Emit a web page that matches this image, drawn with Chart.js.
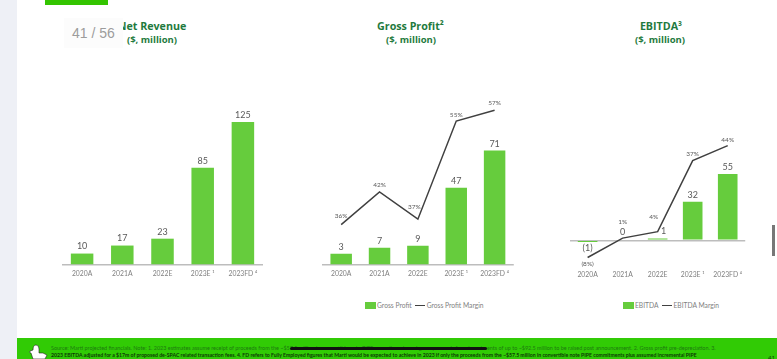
<!DOCTYPE html>
<html>
<head>
<meta charset="utf-8">
<script src="https://cdn.jsdelivr.net/npm/chart.js@4"></script>
<style>
html, body { margin: 0; padding: 0; width: 777px; height: 359px; overflow: hidden; background: #fff; font-family: Lato, sans-serif; }
div, canvas, svg { position: absolute; }
#sideStrip { left: 0; top: 0; width: 17px; height: 359px; background: #eef0f6; }
#topBar { left: 45px; top: 0; width: 63px; height: 5px; background: #33c400; }
.title { width: 130px; text-align: center; color: #1f7a3e; font-weight: 700; white-space: nowrap; font-family: "Open Sans", sans-serif; }
.main { top: 17.5px; font-size: 10.7px; line-height: 16px; }
.unit { top: 33px; font-size: 9.5px; line-height: 13px; }
#pageBadge { left: 64px; top: 18px; width: 59px; height: 30px; text-align: center; background: #fcfcfc; color: #9c9c9c; font: 14px/30px "Liberation Sans", sans-serif; }
.legend { top: 300px; height: 10px; font-size: 6.7px; line-height: 10px; color: #7f7f7f; white-space: nowrap; }
.swatch { display: inline-block; width: 11px; height: 7px; margin-right: 1px; background: #66cc3d; vertical-align: -1px; }
.dash { display: inline-block; width: 10px; height: 1.5px; margin: 0 2px 0 3px; background: #404040; vertical-align: 2px; }
#footer { left: 17px; top: 338px; width: 760px; height: 21px; background: #31cb05; }
.note { left: 34px; line-height: 6px; white-space: nowrap; color: #1c7a10; }
#note1 { top: 7px; font-size: 5.45px; }
#note2 { top: 14px; font-size: 5.15px; color: #0d3a08; font-weight: 700; }
#scribble { left: 273px; top: 8.5px; width: 197px; height: 3px; background: #111; border-radius: 2px; }
#pageNo { left: 751px; top: 16px; font-size: 6px; color: #0d3a08; }
#scrollThumb { left: 772px; top: 225px; width: 3px; height: 31px; background: #777; }
</style>
</head>
<body>
<div id="sideStrip"></div>
<div id="topBar"></div>

<div class="title main" style="left:87px">Net Revenue</div>
<div class="title unit" style="left:87px">($, million)</div>
<div class="title main" style="left:345.5px">Gross Profit²</div>
<div class="title unit" style="left:346px">($, million)</div>
<div class="title main" style="left:596px">EBITDA³</div>
<div class="title unit" style="left:595px">($, million)</div>
<div id="pageBadge">41 / 56</div>

<canvas id="revenueChart" width="201" height="185" style="left:62px;top:100px"></canvas>
<canvas id="profitChart" width="192" height="195" style="left:322px;top:90px"></canvas>
<canvas id="ebitdaChart" width="182" height="162" style="left:569px;top:120px"></canvas>

<div id="profitLegend"></div>
<div id="ebitdaLegend"></div>

<div id="footer">
    <div class="note" id="note1">Source: Marti projected financials. Note: 1. 2023 estimates assume receipt of proceeds from the ~$57.5 million in convertible note PIPE commitments and gross proceeds from investments of up to ~$92.5 million to be raised post announcement. 2. Gross profit pre-depreciation. 3.</div>
    <div class="note" id="note2">2023 EBITDA adjusted for a $17m of proposed de-SPAC related transaction fees. 4. FD refers to Fully Employed figures that Marti would be expected to achieve in 2023 if only the proceeds from the ~$57.5 million in convertible note PIPE commitments plus assumed incremental PIPE</div>
    <div id="scribble"></div>
    <div id="pageNo">41</div>
</div>
<svg style="left:28px;top:344px" width="22" height="15" viewBox="0 0 22 15">
    <path d="M3 9 Q1 9 2 7 L5 6 Q5 1 8 1 Q11 1 11 5 L11 9 L15 9 L19 11 L17 15 L5 15 Z" fill="#fff" stroke="#222" stroke-width="0.6"/>
</svg>
<div id="scrollThumb"></div>

<script>
// 차트 데이터
const years = ['2020A', '2021A', '2022E', '2023E ¹', '2023FD ⁴'];

const revenueValues = [10, 17, 23, 85, 125];

// 그림에서 읽은 막대 높이 (원본 막대는 표시된 숫자와 비례하지 않음)
const profitBarHeights = [7, 10.7, 11.9, 47.6, 70.6];
const profitLabels = ['3', '7', '9', '47', '71'];
const profitMargin = [36, 42, 37, 55, 57];

const ebitdaBarHeights = [-1.5, 0, 1.5, 32, 55];
const ebitdaLabels = ['(1)', '0', '1', '32', '55'];
const ebitdaMargin = [-8, 1, 4, 37, 44];
const ebitdaMarginLabels = ['(8%)', '1%', '4%', '37%', '44%'];

const barColor = '#66cc3d';
const lineColor = '#404040';
const textColor = '#595959';

// 막대/선 위에 값 표시
const valueLabelPlugin = {
    id: 'valueLabels',
    afterDatasetsDraw(chart) {
        const ctx = chart.ctx;
        chart.data.datasets.forEach((dataset, i) => {
            const points = chart.getDatasetMeta(i).data;
            ctx.save();
            ctx.font = dataset.labelFont;
            ctx.fillStyle = textColor;
            ctx.textAlign = 'center';
            ctx.textBaseline = 'middle';
            points.forEach((point, j) => {
                const shift = dataset.labelShift[j];
                ctx.fillText(dataset.valueLabels[j], point.x + shift[0], point.y + shift[1]);
            });
            ctx.restore();
        });
    }
};

function barDataset(label, data, valueLabels, labelShift) {
    return {
        type: 'bar',
        label: label,
        data: data,
        yAxisID: 'y',
        backgroundColor: barColor,
        barPercentage: 0.56,
        categoryPercentage: 1,
        order: 2,
        valueLabels: valueLabels,
        labelShift: labelShift,
        labelFont: '9px Lato'
    };
}

function lineDataset(label, data, valueLabels, labelShift) {
    return {
        type: 'line',
        label: label,
        data: data,
        yAxisID: 'yLine',
        borderColor: lineColor,
        borderWidth: 1.5,
        pointRadius: 0,
        tension: 0,
        order: 1,
        valueLabels: valueLabels,
        labelShift: labelShift,
        labelFont: '6.5px Lato'
    };
}

function drawChart(canvasId, datasets, barRange, lineRange, tickGap) {
    const scales = {
        x: {
            grid: { display: false, drawTicks: false },
            border: { display: false },
            ticks: { color: '#7f7f7f', font: { family: 'Lato', size: 6.8 }, padding: tickGap, maxRotation: 0, autoSkip: false },
            afterFit(axis) { axis.height = 20; }
        },
        y: {
            min: barRange[0],
            max: barRange[1],
            ticks: { display: false },
            border: { display: false },
            grid: { color: '#bdbdbd', lineWidth: 1.5, drawTicks: false },
            afterBuildTicks(axis) { axis.ticks = [{ value: 0 }]; },
            afterFit(axis) { axis.width = 0; }
        }
    };
    if (lineRange) {
        scales.yLine = { display: false, min: lineRange[0], max: lineRange[1] };
    }
    return new Chart(document.getElementById(canvasId), {
        data: { labels: years, datasets: datasets },
        options: {
            responsive: false,
            animation: false,
            devicePixelRatio: 1,
            layout: { padding: 0 },
            plugins: { legend: { display: false }, tooltip: { enabled: false } },
            scales: scales
        },
        plugins: [valueLabelPlugin]
    });
}

function drawLegend(elementId, left, chart) {
    const box = document.getElementById(elementId);
    box.className = 'legend';
    box.style.left = left + 'px';
    box.innerHTML = `<span class="swatch"></span>${chart.data.datasets[0].label}<span class="dash"></span>${chart.data.datasets[1].label}`;
}

const above = [[0, -7], [0, -7], [0, -7], [0, -7], [0, -7]];

drawChart('revenueChart', [
    barDataset('Net Revenue', revenueValues, revenueValues.map(String), above)
], [0, 144.2], null, 5);

const profitChart = drawChart('profitChart', [
    barDataset('Gross Profit', profitBarHeights, profitLabels, above),
    lineDataset('Gross Profit Margin', profitMargin, profitMargin.map(v => v + '%'),
        [[0, -9], [0, -7], [-3.5, -12], [0, -6], [0, -7]])
], [0, 108], [28.6, 60.7], 5);

const ebitdaChart = drawChart('ebitdaChart', [
    barDataset('EBITDA', ebitdaBarHeights, ebitdaLabels, [[0, 6], [0, -8], [6, -7], [0, -7], [0, -7]]),
    lineDataset('EBITDA Margin', ebitdaMargin, ebitdaMarginLabels,
        [[0, 6], [0, -16], [-4, -15], [0, -7], [0, -6]])
], [-18, 99.8], [-10.1, 55.9], 9);

drawLegend('profitLegend', 365, profitChart);
drawLegend('ebitdaLegend', 623, ebitdaChart);
</script>
</body>
</html>
